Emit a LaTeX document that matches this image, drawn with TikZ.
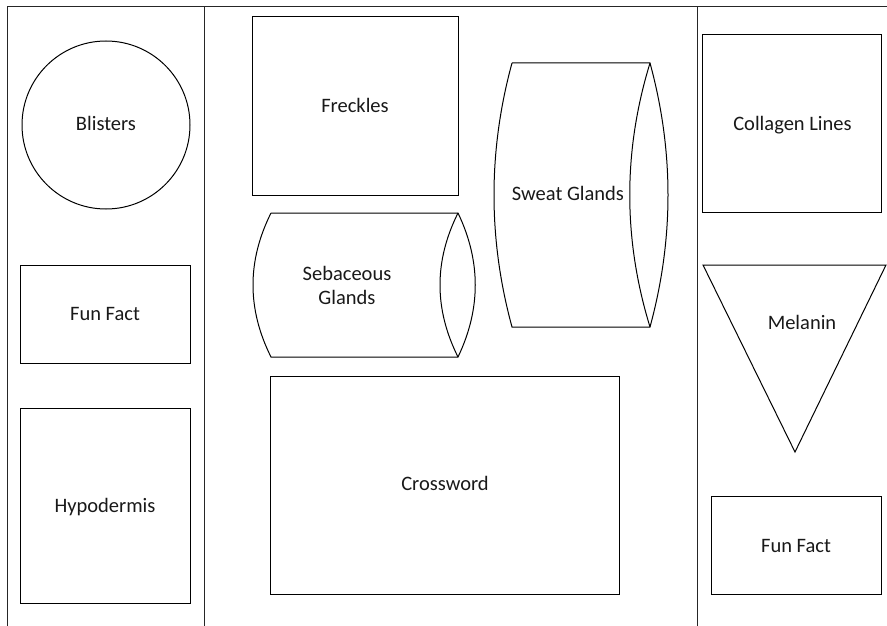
\documentclass[tikz,border=0pt]{standalone}
\usepackage{fontspec}
\setmainfont{Carlito}
\begin{document}
\begin{tikzpicture}[x=1pt,y=-1pt,
  shp/.style={draw=black,line width=1pt},
  frame/.style={draw=black!85,line width=1pt},
  lbl/.style={font=\fontsize{20.5}{24.5}\selectfont,align=center,text=black!90,inner sep=0pt,anchor=base}]
\useasboundingbox (0,0) rectangle (887,626);
% frame
\draw[frame] (7,626) -- (7,7) -- (887,7);
\draw[frame] (204,7) -- (204,626);
\draw[frame] (697.5,7) -- (697.5,626);
% left column
\draw[shp] (106,125) circle (84);
\node[lbl] (blisters) at (106,130) {Blisters};
\draw[shp] (20,265) rectangle (190,363);
\node[lbl] (fun1) at (105,320) {Fun Fact};
\draw[shp] (20,408) rectangle (190,603);
\node[lbl] (hypo) at (105,512) {Hypodermis};
% middle column
\draw[shp] (252,17) rectangle (458,195);
\node[lbl] (freckles) at (355,113) {Freckles};
% sebaceous cylinder
\draw[shp] (271,213) -- (458,213)
  .. controls (481,261) and (481,309) .. (458,357) -- (271,357)
  .. controls (247,309) and (247,261) .. (271,213);
\draw[shp] (458,213) .. controls (434,261) and (434,309) .. (458,357);
\node[lbl] (seb) at (347,280) {Sebaceous};
\node[lbl] (seb2) at (347,304) {Glands};
% sweat cylinder
\draw[shp] (512,63) -- (650,63)
  .. controls (674,151) and (674,239) .. (650,327) -- (512,327)
  .. controls (488,239) and (488,151) .. (512,63);
\draw[shp] (650,63) .. controls (623,151) and (623,239) .. (650,327);
\node[lbl] (sweat) at (568,200.5) {Sweat Glands};
\draw[shp] (270,376) rectangle (619,594);
\node[lbl] (cross) at (445,490.5) {Crossword};
% right column
\draw[shp] (702,35) rectangle (881,212);
\node[lbl] (collagen) at (792.5,131) {Collagen Lines};
\draw[shp] (703,265) -- (886,265) -- (795,452) -- cycle;
\node[lbl] (melanin) at (802,329) {Melanin};
\draw[shp] (711,496) rectangle (881,594);
\node[lbl] (fun2) at (796,552) {Fun Fact};
\end{tikzpicture}
\end{document}
